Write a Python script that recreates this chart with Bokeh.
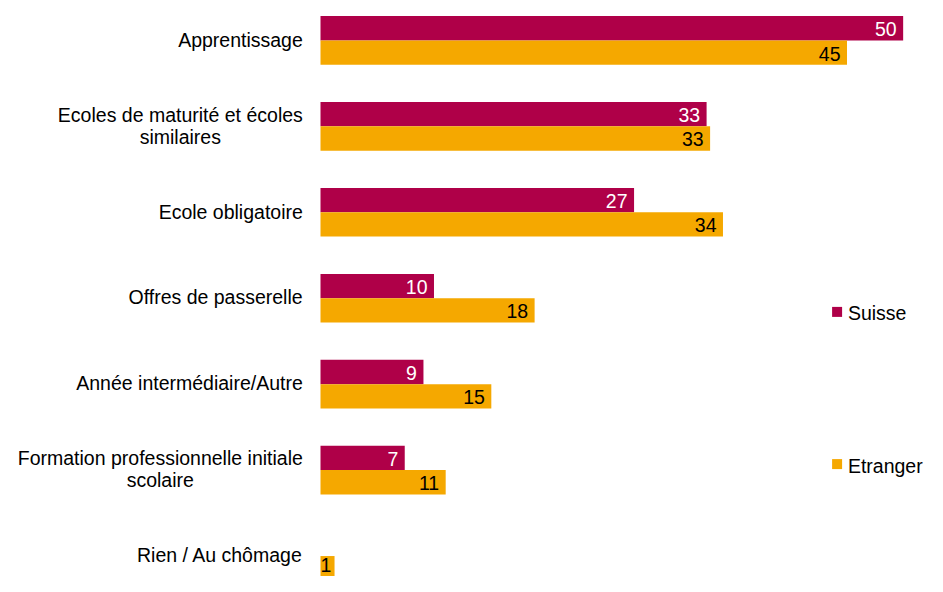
from bokeh.plotting import figure
from bokeh.models import Range1d, ColumnDataSource
from bokeh.core.properties import value
from bokeh.embed import file_html
from bokeh.resources import INLINE

# ---------------- data ----------------
categories = [
    "Apprentissage",
    "Ecoles de maturité et écoles\nsimilaires",
    "Ecole obligatoire",
    "Offres de passerelle",
    "Année intermédiaire/Autre",
    "Formation professionnelle initiale\nscolaire",
    "Rien / Au chômage",
]
series = ["Suisse", "Etranger"]
suisse = [49.8, 33.0, 26.8, 9.7, 8.8, 7.2, 0.0]
etranger = [45.0, 33.3, 34.4, 18.3, 14.6, 10.7, 1.2]

# ---------------- style ----------------
colors = ["#AF0048", "#F5A800"]
value_text_colors = ["#FFFFFF", "#000000"]
FONT = "Liberation Sans"
FS = 19.5

W, H = 927, 576
PX_X = 11.70     # pixels per unit on x
ZERO_X = 320.0   # canvas px of x = 0
PX_Y = 85.94     # pixels per category
TOP_Y = 39.9     # canvas px of the first category centre
BAR_H = 24.3 / PX_Y
PAD = 6.5        # value label padding inside bar end

# Arial / Liberation Sans advance widths (1/1000 em) for label centring
AW = {c: 556 for c in "abdeghnopqué ôèâ0123456789"}
AW.update({"c": 500, "f": 278, "i": 222, "j": 222, "k": 500, "l": 222, "m": 833,
           "r": 333, "s": 500, "t": 278, "v": 500, "w": 722, "x": 500, "y": 500,
           "z": 500, " ": 278, "/": 278, "A": 667, "E": 667, "F": 611, "O": 778,
           "R": 722, "C": 722, "S": 667})


def tw(s):
    return sum(AW.get(ch, 556) for ch in s) * FS / 1000.0


p = figure(width=W, height=H, output_backend="svg", toolbar_location=None,
           x_range=Range1d(-ZERO_X / PX_X, (W - ZERO_X) / PX_X),
           y_range=Range1d((H - TOP_Y) / PX_Y, -TOP_Y / PX_Y),
           min_border=0, x_axis_location=None, y_axis_location=None,
           outline_line_color=None, background_fill_color="white",
           border_fill_color="white")
p.xgrid.visible = False
p.ygrid.visible = False

idx = list(range(len(categories)))
offsets = [-BAR_H / 2, BAR_H / 2]
for s, vals, col, tcol, off in zip(series, [suisse, etranger], colors,
                                   value_text_colors, offsets):
    src = ColumnDataSource(dict(y=[i + off for i in idx], v=vals))
    p.hbar(y="y", right="v", left=0, height=BAR_H, source=src,
           fill_color=col, line_color=None)
    fit = dict(x=[], y=[], t=[])
    small = dict(x=[], y=[], t=[])
    for k, v in enumerate(vals):
        if v <= 0:
            continue
        t = str(int(round(v)))
        d = fit if v * PX_X - PAD >= tw(t) else small
        d["x"].append(v if d is fit else 0)
        d["y"].append(idx[k] + off)
        d["t"].append(t)
    common = dict(text_baseline="middle", text_font=value(FONT),
                  text_font_size=value(f"{FS}px"), text_color=tcol)
    p.text(x="x", y="y", text="t", source=ColumnDataSource(fit),
           x_offset=-PAD, y_offset=1, text_align="right", **common)
    p.text(x="x", y="y", text="t", source=ColumnDataSource(small),
           x_offset=0, y_offset=-3.5, text_align="left", **common)

# category labels (lines centred within a right-aligned block)
lx, ly, lt, lxo, lyo = [], [], [], [], []
LINE = 21.9
for i, cat in enumerate(categories):
    lines = cat.split("\n")
    n = len(lines)
    maxw = max(tw(l) for l in lines)
    for k, line in enumerate(lines):
        lx.append(0)
        ly.append(i)
        lt.append(line)
        lxo.append(-17.7 - maxw / 2)
        lyo.append((k - (n - 1) / 2) * LINE - 0.75)
p.text(x="x", y="y", text="t", x_offset="xo", y_offset="yo",
       source=ColumnDataSource(dict(x=lx, y=ly, t=lt, xo=lxo, yo=lyo)),
       text_align="center", text_baseline="middle",
       text_font=value(FONT), text_font_size=value(f"{FS}px"),
       text_color="#000000")

# legend
leg_sq_y = [311.4, 463.6]
leg_tx_y = [312.3, 465.0]
for s, col, sy, ty in zip(series, colors, leg_sq_y, leg_tx_y):
    p.scatter(x=[(836.6 - ZERO_X) / PX_X], y=[(sy - TOP_Y) / PX_Y],
              marker="square", size=10, fill_color=col, line_color=None)
    p.text(x=[(847.4 - ZERO_X) / PX_X], y=[(ty - TOP_Y) / PX_Y], text=[s],
           text_align="left", text_baseline="middle",
           text_font=value(FONT), text_font_size=value(f"{FS}px"),
           text_color="#000000")

open("out.html", "w").write(file_html(p, INLINE))
